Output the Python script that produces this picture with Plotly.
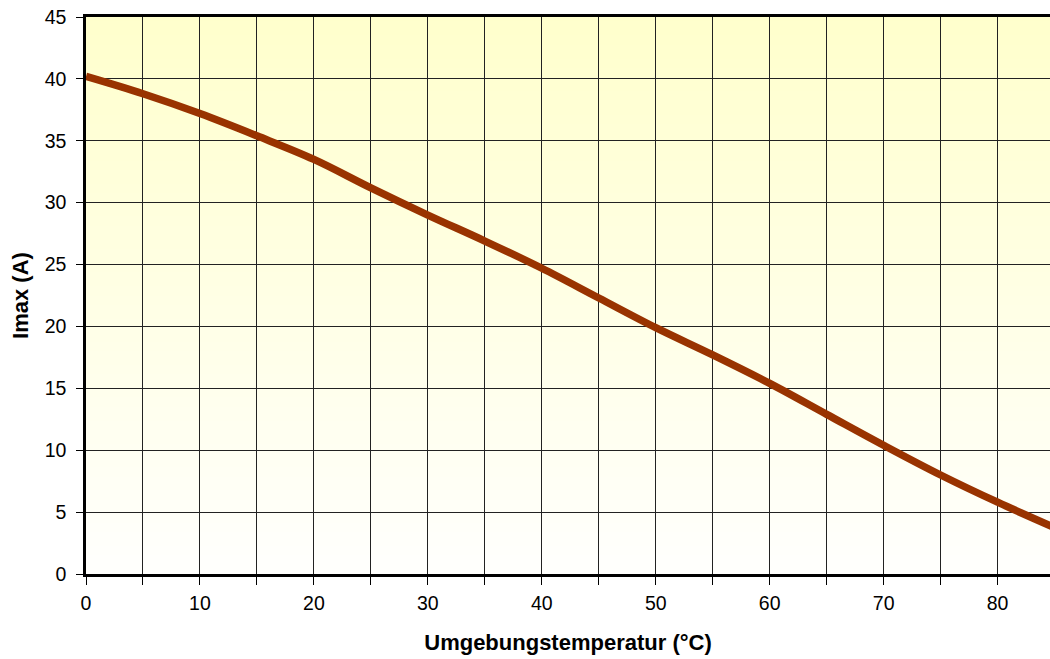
import plotly.graph_objects as go

# Data
temperature = [0, 5, 10, 15, 20, 25, 30, 35, 40, 45, 50, 55, 60, 65, 70, 75, 80, 85]
imax = [40.2, 38.8, 37.2, 35.4, 33.5, 31.2, 29.0, 26.9, 24.7, 22.3, 19.9, 17.7, 15.4, 12.9, 10.4, 8.0, 5.8, 3.75]

x_title = "Umgebungstemperatur (°C)"
y_title = "Imax (A)"

X_RANGE = [0, 84.6]
Y_RANGE = [0, 45]

FONT = "Liberation Sans, Arial, sans-serif"
TICK_SIZE = 19.5
TITLE_SIZE = 22

fig = go.Figure()
fig.add_trace(go.Scatter(
    x=temperature, y=imax, mode="lines",
    line=dict(color="#993300", width=7.5, shape="spline", smoothing=1.0),
    hoverinfo="x+y", showlegend=False,
))

# vertical gradient background (light yellow at top -> white at bottom), below gridlines
n_bands = 120
top = (255, 255, 204)
bot = (255, 255, 253)
shapes = []
for i in range(n_bands):
    f0 = i / n_bands
    f1 = (i + 1) / n_bands
    fm = (f0 + f1) / 2
    c = tuple(round(bot[k] + (top[k] - bot[k]) * fm) for k in range(3))
    shapes.append(dict(
        type="rect", xref="x domain", yref="y domain",
        x0=0, x1=1, y0=f0, y1=f1 + 0.002,
        fillcolor="rgb(%d,%d,%d)" % c, line=dict(width=0), layer="below",
    ))

fig.update_layout(
    width=1050, height=659,
    margin=dict(l=86, r=0, t=17, b=85),
    paper_bgcolor="white",
    plot_bgcolor="rgba(0,0,0,0)",
    shapes=shapes,
    font=dict(family=FONT, size=TICK_SIZE, color="black"),
    xaxis=dict(
        range=X_RANGE, dtick=10, tick0=0,
        ticks="outside", ticklen=8, tickwidth=1, tickcolor="black",
        ticklabelstandoff=2,
        showgrid=True, gridcolor="#222", gridwidth=1,
        minor=dict(dtick=5, tick0=0, ticks="outside", ticklen=8, tickcolor="black",
                   showgrid=True, gridcolor="#222", gridwidth=1),
        showline=True, linecolor="black", linewidth=2.5, mirror=True,
        zeroline=False,
        title=dict(text="<b>" + x_title + "</b>", font=dict(size=TITLE_SIZE, family=FONT), standoff=22),
        tickfont=dict(size=TICK_SIZE, family=FONT),
    ),
    yaxis=dict(
        range=Y_RANGE, dtick=5, tick0=0,
        ticks="outside", ticklen=7, tickwidth=1, tickcolor="black",
        ticklabelstandoff=6,
        showgrid=True, gridcolor="#222", gridwidth=1,
        showline=True, linecolor="black", linewidth=2.5,
        zeroline=False,
        title=dict(text="<b>" + y_title + "</b>", font=dict(size=TITLE_SIZE, family=FONT), standoff=10),
        tickfont=dict(size=TICK_SIZE, family=FONT),
    ),
)

fig.write_html("out.html", config={"displayModeBar": False},
               post_script="document.body.style.margin='0';")
